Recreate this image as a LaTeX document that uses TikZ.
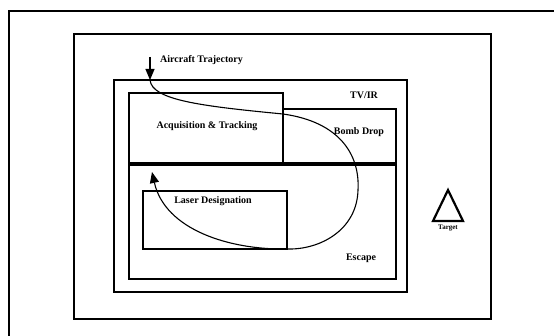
\documentclass[tikz,border=0pt]{standalone}
\usepackage{fontspec}
\setmainfont{Liberation Serif}
\usetikzlibrary{arrows.meta,positioning}

\begin{document}
\begin{tikzpicture}[
  x=1pt, y=-1pt,
  font=\rmfamily\bfseries\fontsize{10}{12}\selectfont,
  >={Triangle[length=11pt,width=9pt]},
  zone/.style={
    draw,
    line width=1.7pt,
    inner sep=0pt,
    outer sep=0pt,
    anchor=north west
  },
  pageframe/.style={draw,line width=1.5pt},
  tag/.style={inner sep=1pt},
  trajectory/.style={line width=1.1pt}
]
  \useasboundingbox (0,0) rectangle (554,336);
  \clip (0,0) rectangle (554,336);

  % Page frame and the mission panel.
  \draw[pageframe] (9,11) rectangle (600,380);
  \node[zone,minimum width=417pt,minimum height=285pt] (panel) at (74,34) {};

  % Sensor and weapon zones.
  \node[zone,minimum width=293pt,minimum height=212pt] (tvir) at (114,80) {};
  \node[zone,minimum width=154pt,minimum height=70pt] (acq) at (129,93) {};
  \node[zone,minimum width=113pt,minimum height=54pt] (bomb) at (283,109) {};
  \node[zone,minimum width=267pt,minimum height=114pt] (escape) at (129,165) {};
  \node[zone,minimum width=144pt,minimum height=58pt] (laser) at (143,191) {};

  \node[tag] (tvirlabel) at (364,95) {TV/IR};
  \node[tag] (acqlabel) at (207,126) {Acquisition \& Tracking};
  \node[tag] (bomblabel) at (359,132) {Bomb Drop};
  \node[tag] (laserlabel) at (213,201) {Laser Designation};
  \node[tag] (escapelabel) at (361,258) {Escape};

  % Aircraft trajectory through the zones.
  \coordinate (inbound) at (150,57);
  \coordinate (entry) at (150,80);
  \coordinate (loopend) at (152,172);
  \node[tag,anchor=west] (trajlabel) at (159,60) {Aircraft Trajectory};

  \draw[trajectory,->] (inbound) -- (entry);
  \draw[trajectory,->] (entry)
    .. controls (152,100) and (200,106) .. (283,114)
    .. controls (340,122) and (360,155) .. (358,190)
    .. controls (357,230) and (320,250) .. (287,249)
    .. controls (230,250) and (165,230) .. (loopend);

  % Target marker.
  \draw[line width=2.2pt,line join=miter] (448,190) -- (463,221) -- (433,221) -- cycle;
  \node[tag,font=\rmfamily\bfseries\fontsize{7}{8}\selectfont] (targetlabel) at (448,228) {Target};
\end{tikzpicture}
\end{document}
